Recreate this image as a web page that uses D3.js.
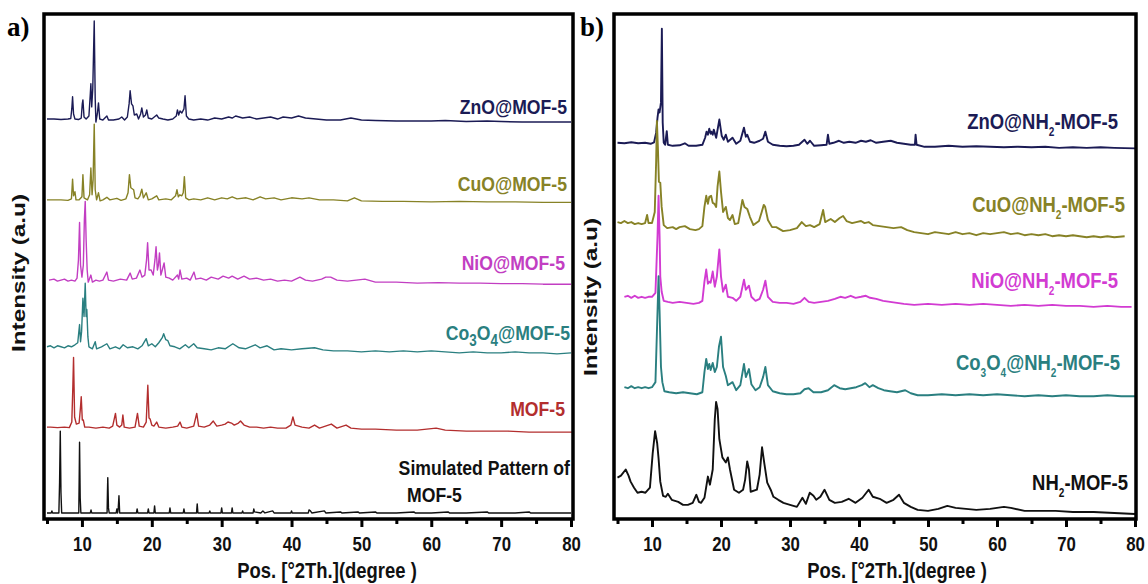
<!DOCTYPE html>
<html>
<head>
<meta charset="utf-8">
<script src="https://cdn.jsdelivr.net/npm/d3@7"></script>
<style>
  body { margin: 0; background: #fff; }
  svg text { font-family: "Liberation Sans", Arial, sans-serif; font-weight: bold; }
</style>
</head>
<body>
<script>
// ---------- data: [2theta, intensity a.u. above the trace's own offset] ----------
var ticksMajor = [10, 20, 30, 40, 50, 60, 70, 80];
var ticksAll = [5, 10, 15, 20, 25, 30, 35, 40, 45, 50, 55, 60, 65, 70, 75, 80];

// panel a
var namesA = ["ZnO@MOF-5", "CuO@MOF-5", "NiO@MOF-5", "Co_3O_4@MOF-5", "MOF-5", "Simulated Pattern of"];
var offsetsA = [792, 632, 473, 341, 182, 12];

var znoA = [[5,0],[6,0],[7,-1],[8,0],[8.4,1],[8.55,20],[8.66,44],[8.8,10],[9.0,0],[9.5,-1],[9.9,2],[10.05,30],[10.14,38],[10.3,4],[10.6,0],[11.0,6],[11.2,50],[11.28,70],[11.4,24],[11.55,60],[11.76,194],[11.9,40],[12.0,-6],[12.2,10],[12.37,32],[12.55,0],[13.0,-2],[13.57,6],[13.8,-2],[14.5,-2],[15.3,0],[15.7,4],[16.1,-2],[16.5,4],[16.75,30],[16.9,56],[17.1,30],[17.3,26],[17.5,8],[17.85,10],[18.1,0],[18.4,10],[18.57,22],[18.8,4],[19.1,8],[19.28,18],[19.5,2],[20.0,0],[20.7,8],[21.0,2],[21.6,0],[22.3,-2],[23.0,0],[23.5,6],[23.67,18],[23.85,8],[24.04,16],[24.3,12],[24.6,20],[24.76,46],[24.95,6],[25.3,0],[26.0,-2],[27.0,0],[28.0,-2],[29.0,2],[30.0,0],[31.0,4],[31.5,2],[32.0,6],[33.0,2],[34.0,4],[35.0,0],[36.0,2],[37.0,4],[38.0,0],[38.8,4],[40.0,2],[41.0,6],[42.0,2],[43.5,0],[45.0,-2],[47.0,-2],[48.5,2],[50,-2],[52,-3],[55,-4],[58,-4],[60,-4],[62,-3],[65,-5],[68,-4],[70,-5],[73,-6],[76,-6],[80,-6]];
var cuoA = [[5,0],[6,0],[7,0],[8,-1],[8.5,2],[8.66,41],[8.8,8],[9.0,16],[9.15,0],[9.6,0],[10.0,6],[10.14,50],[10.3,4],[10.8,0],[11.1,10],[11.28,63],[11.45,10],[11.6,40],[11.76,150],[11.9,20],[12.1,0],[12.37,14],[12.6,-2],[13.0,0],[13.57,5],[14.0,0],[15.0,3],[15.6,-1],[16.3,2],[16.6,14],[16.8,50],[17.0,24],[17.4,20],[17.6,4],[18.0,2],[18.3,8],[18.57,21],[18.8,4],[19.2,14],[19.5,0],[20.0,2],[20.7,8],[21.0,0],[22.0,2],[22.8,0],[23.4,8],[23.6,20],[23.8,6],[24.0,10],[24.3,8],[24.5,14],[24.66,46],[24.85,4],[25.3,0],[26.0,2],[27.0,0],[28.0,4],[29.0,0],[30.0,4],[30.8,2],[31.5,6],[32.2,2],[33.5,4],[34.5,0],[35.5,6],[36.3,2],[37.5,4],[38.5,0],[40.0,4],[41.5,2],[42.5,4],[44.0,0],[46.0,0],[48.0,-2],[49.0,4],[50.0,-2],[53,-3],[56,-3],[60,-4],[64,-3],[68,-4],[72,-4],[76,-5],[80,-5]];
var nioA = [[5.3,0],[6,2],[6.5,-2],[7,0],[7.5,2],[8,-2],[8.5,0],[9.0,-2],[9.3,4],[9.5,40],[9.66,114],[9.8,30],[10.0,6],[10.2,30],[10.35,120],[10.47,156],[10.6,80],[10.75,20],[10.9,-4],[11.28,10],[11.5,-4],[12.0,0],[12.5,-2],[13.0,0],[13.57,16],[13.8,0],[14.5,-2],[15.5,2],[16.4,0],[16.9,14],[17.2,2],[17.8,4],[18.3,20],[18.6,6],[19.0,10],[19.25,40],[19.4,74],[19.6,20],[19.9,20],[20.2,10],[20.45,40],[20.61,66],[20.8,20],[20.95,30],[21.1,54],[21.3,10],[21.5,20],[21.76,34],[22.0,6],[22.5,4],[23.0,0],[23.67,10],[23.85,2],[24.04,20],[24.3,2],[25.0,4],[25.5,0],[26.04,16],[26.3,2],[27.0,4],[27.8,0],[28.5,6],[29.5,2],[30.2,8],[31.0,4],[31.5,8],[32.3,2],[33.2,8],[34.0,2],[35.0,4],[36.0,0],[37.0,2],[38.0,-2],[39.0,0],[40.0,-2],[41.2,6],[42.0,0],[43.0,-2],[44.3,2],[44.9,6],[45.6,6],[46.5,0],[48.0,-2],[50.5,2],[52,-4],[55,-4],[58,-6],[61,-5],[64,-6],[67,-6],[70,-7],[73,-7],[76,-8],[80,-8]];
var coA = [[5,0],[5.5,2],[6,-2],[6.5,2],[7,0],[7.5,-2],[8,2],[8.5,0],[9.0,4],[9.4,8],[9.66,44],[9.8,10],[9.95,30],[10.14,96],[10.3,60],[10.47,126],[10.6,60],[10.7,74],[10.85,20],[11.0,0],[11.5,-4],[11.9,10],[12.1,-4],[12.8,0],[13.57,6],[14.0,-4],[14.8,0],[15.4,-4],[15.9,4],[16.5,-2],[17.3,0],[18.0,-4],[18.6,2],[19.2,16],[19.5,2],[20.0,6],[20.5,0],[21.0,8],[21.5,18],[21.7,26],[22.0,14],[22.3,12],[22.6,2],[23.3,0],[24.0,-4],[24.8,4],[25.3,-2],[26.0,6],[26.5,-2],[27.5,-4],[28.5,-6],[29.5,-2],[30.5,-4],[31.6,6],[32.5,-2],[33.4,-4],[34.8,4],[35.5,-2],[36.5,2],[37.5,-6],[38.5,-4],[40,-6],[41.5,-4],[43.3,-2],[44.5,-6],[46,-8],[48,-8],[50,-10],[52,-8],[54,-10],[56,-8],[58,-10],[60,-8],[62,-10],[64,-12],[66,-10],[68,-12],[70,-12],[72,-10],[74,-12],[76,-12],[78,-14],[80,-12]];
var mofA = [[5,0],[5.5,0],[6.5,-1],[7.5,0],[8.2,-1],[8.55,10],[8.7,80],[8.8,138],[8.95,20],[9.2,6],[9.6,8],[9.8,40],[9.9,60],[10.05,14],[10.2,14],[10.4,0],[11.0,0],[12.0,-2],[13.0,0],[13.9,-2],[14.4,2],[14.8,27],[15.0,4],[15.4,0],[15.7,4],[15.86,24],[16.05,0],[16.8,-2],[17.6,0],[17.95,27],[18.2,2],[18.8,0],[19.2,10],[19.43,83],[19.6,18],[19.76,16],[20.0,4],[20.3,2],[20.7,10],[21.0,0],[22.0,-2],[23.0,0],[23.7,2],[24.04,10],[24.3,0],[25.0,-2],[26.0,2],[26.43,27],[26.7,2],[27.5,0],[28.3,4],[28.8,12],[29.3,2],[30.0,4],[30.5,6],[30.9,10],[31.4,8],[31.8,4],[32.4,8],[32.7,12],[33.2,4],[34.0,0],[35.0,0],[36.0,-2],[37.0,0],[38.0,-2],[39.2,-2],[39.9,4],[40.2,20],[40.5,4],[41.5,0],[42.5,-2],[43.3,4],[44.0,-2],[45.7,6],[46.5,-2],[47.8,4],[48.5,-2],[50,-4],[52,-4],[55,-6],[58,-6],[60.7,-2],[62,-6],[65,-8],[68,-8],[71,-8],[74,-10],[77,-10],[80.4,-10]];
var simA = [[5,0],[5.6,0],[5.7,4],[5.8,0],[6.7,0],[6.8,60],[6.9,162],[7.0,40],[7.1,0],[8.5,0],[9.55,0],[9.6,60],[9.66,140],[9.75,30],[9.85,0],[11.2,0],[11.3,6],[11.4,0],[13.6,0],[13.65,40],[13.7,70],[13.8,10],[13.9,0],[14.9,0],[15.0,8],[15.1,0],[15.2,10],[15.3,34],[15.4,0],[17.8,0],[17.9,8],[18.0,0],[19.4,0],[19.5,8],[19.6,0],[20.3,0],[20.4,14],[20.5,0],[22.5,0],[22.6,10],[22.7,0],[24.5,0],[24.6,8],[24.7,0],[26.4,0],[26.5,18],[26.6,0],[28.2,0],[28.3,4],[28.4,0],[29.9,0],[30.0,10],[30.1,0],[31.4,0],[31.5,10],[31.6,0],[32.9,0],[33,4],[33.1,0],[34.5,0],[34.6,8],[34.7,2],[35.6,0],[35.9,4],[36.2,0],[37.3,4],[37.5,0],[39.9,0],[40.0,4],[40.1,0],[42.4,0],[42.5,6],[42.7,4],[42.9,0],[44.7,4],[44.9,0],[47,2],[47.2,0],[49.5,2],[49.7,0],[52,2],[52.2,0],[55,0],[57.5,2],[57.7,0],[60,0],[62.4,2],[62.6,0],[65,0],[68,2],[68.2,0],[72,0],[74,2],[74.2,0],[77,0],[80,0]];

// panel b
var namesB = ["ZnO@NH_2-MOF-5", "CuO@NH_2-MOF-5", "NiO@NH_2-MOF-5", "Co_3O_4@NH_2-MOF-5", "NH_2-MOF-5"];
var offsetsB = [745, 588, 440, 261, 0];

var znoB = [[5,0],[6,-1],[7,1],[8,-1],[9,0],[9.8,-2],[10.3,1],[10.6,20],[10.8,50],[10.95,66],[11.1,60],[11.3,80],[11.43,226],[11.55,40],[11.7,0],[11.9,-4],[12.14,23],[12.3,-4],[13,-6],[14,-5],[14.76,-1],[15.3,-6],[16.4,-6],[17.3,-4],[17.7,10],[17.9,22],[18.1,16],[18.3,28],[18.5,18],[18.6,22],[18.8,16],[18.95,26],[19.3,10],[19.76,46],[20.1,14],[20.4,6],[20.7,16],[21.0,2],[21.67,10],[22.2,-2],[22.8,4],[23.33,30],[23.6,12],[23.8,16],[24.2,2],[24.8,0],[25.6,4],[26.1,8],[26.43,22],[26.8,2],[27.5,-4],[28.5,-6],[29.5,-7],[30.5,-6],[31.3,-4],[32.1,6],[32.5,-2],[32.9,4],[33.5,-6],[34.5,-5],[35.3,-4],[35.5,16],[35.7,-2],[36.3,0],[37.1,4],[37.8,0],[38.6,2],[39.5,0],[40.3,4],[41.0,2],[41.7,5],[42.5,0],[43.5,2],[44.6,4],[45.5,0],[46.5,-2],[47.5,-4],[48.1,-4],[48.2,16],[48.35,-4],[49.5,-8],[51,-8],[53,-6],[55,-8],[57,-7],[59,-8],[61,-9],[63,-8],[65,-9],[67,-8],[69,-10],[71,-9],[73,-10],[75,-9],[77,-10],[80,-11]];
var cuoB = [[5,0],[5.5,-2],[6,2],[6.5,-2],[7,0],[7.5,-4],[8,-2],[8.5,-4],[9,-2],[9.29,14],[9.5,-2],[10,-2],[10.4,20],[10.6,120],[10.71,200],[10.85,150],[11.0,80],[11.2,78],[11.4,30],[11.7,-6],[12.2,-12],[13,-10],[13.5,-14],[14,-10],[14.76,-8],[15.5,-14],[16.3,-16],[16.8,-14],[17.3,-8],[17.6,30],[17.86,52],[18.1,36],[18.3,50],[18.57,52],[18.8,38],[19.05,36],[19.3,30],[19.5,70],[19.76,100],[20.0,60],[20.3,20],[20.7,30],[21.0,8],[21.3,4],[21.67,14],[22.0,-4],[22.5,-2],[22.8,20],[23.1,44],[23.4,30],[23.8,26],[24.2,10],[24.7,-6],[25.5,2],[25.9,20],[26.2,34],[26.4,30],[26.8,4],[27.4,-10],[28,-10],[29,-18],[30,-16],[31.0,-12],[31.7,0],[32.3,-8],[32.9,-6],[33.5,-10],[34.3,-4],[34.8,24],[35.1,0],[35.9,6],[36.5,0],[37.2,8],[37.7,12],[38.2,2],[39,-2],[39.6,0],[40.3,2],[40.8,-2],[41.4,0],[42,-6],[43,-8],[44,-10],[45,-12],[46.1,-10],[47,-16],[48,-20],[49,-22],[50,-24],[51,-20],[52,-22],[53,-24],[54,-20],[55,-24],[56,-22],[57,-26],[58,-22],[59,-24],[60,-22],[61,-20],[62,-24],[63,-22],[64,-26],[65,-24],[66,-26],[67,-24],[68,-28],[69,-26],[70,-28],[71,-26],[72,-28],[73,-30],[74,-28],[75,-30],[76,-28],[77,-30],[78.5,-28]];
var nioB = [[6,0],[6.5,2],[7,-2],[7.5,2],[8,-2],[8.5,0],[9,-2],[9.5,0],[10,0],[10.5,8],[10.8,120],[10.95,200],[11.1,120],[11.2,40],[11.4,10],[11.7,-8],[12.3,-10],[13,-12],[14,-10],[15,-12],[16,-14],[16.8,-12],[17.3,-8],[17.6,30],[17.86,54],[18.1,26],[18.3,30],[18.5,28],[18.8,50],[19.1,20],[19.4,40],[19.76,94],[20.0,40],[20.3,10],[20.7,24],[21.0,0],[21.67,-2],[22.2,-8],[22.8,0],[23.33,34],[23.6,14],[24.05,22],[24.4,0],[25.0,-8],[25.6,-4],[26.1,14],[26.43,32],[26.8,0],[27.5,-10],[28.5,-12],[29.5,-12],[30.5,-14],[31.5,-10],[32.1,-2],[32.7,-10],[33.5,-12],[34.5,-10],[35.5,-8],[36.5,-4],[37.3,0],[38,-2],[38.8,2],[39.5,-2],[40.3,0],[41.0,2],[41.6,-2],[42.5,-4],[43.5,-8],[44.5,-10],[45.5,-12],[46.5,-14],[48,-16],[50,-14],[52,-16],[54,-14],[56,-16],[58,-14],[60,-16],[62,-18],[64,-16],[66,-18],[68,-16],[70,-18],[72,-18],[74,-20],[76,-18],[78,-20],[79.5,-20]];
var coB = [[6,0],[6.5,-2],[7,2],[7.5,-2],[8,0],[8.5,-2],[9,0],[9.5,-2],[10,0],[10.5,10],[10.8,150],[10.95,220],[11.1,150],[11.3,40],[11.5,10],[11.8,-8],[12.5,-10],[13.5,-12],[14.5,-10],[15.5,-12],[16.5,-14],[17.3,-10],[17.6,30],[17.86,56],[18.1,36],[18.3,46],[18.5,34],[18.8,48],[19.1,30],[19.4,40],[19.7,80],[20.0,100],[20.3,40],[20.7,22],[21.0,4],[21.67,10],[22.2,-6],[22.8,4],[23.33,46],[23.6,20],[24.05,36],[24.4,6],[25.0,-6],[25.6,0],[26.1,20],[26.43,40],[26.8,4],[27.5,-8],[28.5,-12],[29.5,-14],[30.5,-14],[31.5,-12],[32.1,-4],[32.7,-2],[33.4,-10],[34.5,-10],[35.5,-6],[36.4,4],[37.2,-2],[38,-4],[38.8,-2],[39.6,0],[40.4,4],[40.9,8],[41.5,0],[42,4],[42.8,-2],[43.6,-6],[44.5,-8],[45.5,-10],[46.7,-6],[47.5,-12],[48.5,-16],[50,-16],[52,-14],[54,-16],[56,-14],[58,-16],[60,-14],[62,-16],[64,-18],[66,-16],[68,-18],[70,-16],[72,-18],[74,-18],[76,-16],[78,-18],[80,-18]];
var nh2B = [[5.0,82],[5.5,86],[6.19,98],[6.6,86],[6.9,74],[7.4,62],[7.9,52],[8.5,54],[9.05,52],[9.7,62],[10.1,130],[10.45,174],[10.75,150],[10.95,120],[11.2,74],[11.6,46],[12.0,44],[12.3,50],[12.86,38],[13.8,34],[14.5,28],[15.2,28],[15.9,32],[16.43,48],[16.8,34],[17.1,32],[17.6,42],[18.1,84],[18.4,68],[18.8,98],[19.1,198],[19.29,232],[19.5,218],[19.76,158],[20.2,122],[20.7,112],[21.0,122],[21.3,98],[21.9,58],[22.6,52],[23.2,58],[23.5,78],[23.8,114],[24.05,98],[24.3,54],[25.2,58],[25.6,88],[25.95,142],[26.3,108],[26.7,72],[27.2,58],[27.6,44],[28.3,38],[29.05,32],[30.0,28],[31.0,24],[31.8,42],[32.3,30],[32.86,52],[33.4,46],[33.8,38],[34.4,44],[35.0,58],[35.7,38],[36.5,32],[37.5,34],[38.5,40],[39.5,32],[40.5,42],[41.4,58],[42.0,44],[43.0,40],[44.0,32],[45.0,38],[45.8,48],[46.5,32],[47.5,24],[48.5,18],[50.0,16],[51.5,20],[52.8,26],[54.0,22],[55.5,20],[57.0,18],[59.0,20],[61.0,24],[62.0,22],[64.0,16],[66.0,16],[68.5,16],[71.0,14],[74.0,14],[77.0,12],[80.0,10]];

var seriesA = [znoA, cuoA, nioA, coA, mofA, simA];
var seriesB = [znoB, cuoB, nioB, coB, nh2B];

// ---------- layout / style ----------
var colorsA = ["#1b1b55", "#878226", "#c23ec2", "#2a7f80", "#b32e2e", "#111111"];
var colorsB = ["#1b1b55", "#878226", "#d23bd2", "#2a7f80", "#111111"];
var squeeze = 0.84;   // the figure's text is a condensed bold face

var svgWidth = 1148;
var svgHeight = 584;

var svg = d3.select("body")
  .append("svg")
  .attr("width", svgWidth)
  .attr("height", svgHeight);

var panels = [
  { tag: "a)", tagX: 7, frame: [44, 14, 573, 519], xr: [47, 571], names: namesA, offsets: offsetsA,
    series: seriesA, colors: colorsA, lw: 1.4, fs: 21, subSize: 16, subDy: 6,
    labels: [[567, 114], [567, 191], [565, 270], [570, 340], [565, 416], [570, 475]],
    yTitle: [19, 273], xTitle: 327 },
  { tag: "b)", tagX: 580, frame: [614, 14, 1136, 519], xr: [617.5, 1135], names: namesB, offsets: offsetsB,
    series: seriesB, colors: colorsB, lw: 1.9, fs: 22, subSize: 12, subDy: 7,
    labels: [[1118, 129], [1125, 212], [1118, 288], [1120, 370], [1128, 490]],
    yTitle: [591, 297], xTitle: 897 }
];

// condensed text placed at (x, y)
function narrowText(g, x, y, size) {
  return g.append("text")
    .attr("transform", "translate(" + x + "," + y + ") scale(" + squeeze + ",1)")
    .style("font-size", size + "px");
}

// label text with "_n" meaning subscript n
function addLabel(g, str, x, y, color, p) {
  var t = narrowText(g, x, y, p.fs)
    .attr("text-anchor", "end")
    .attr("fill", color);
  var parts = str.split(/_(\d)/);
  var shift = 0;
  parts.forEach(function(s, i) {
    if (s === "") return;
    if (i % 2 === 1) {
      t.append("tspan").attr("dy", p.subDy - shift).style("font-size", p.subSize + "px").text(s);
      shift = p.subDy;
    } else {
      t.append("tspan").attr("dy", -shift).text(s);
      shift = 0;
    }
  });
  return t;
}

panels.forEach(function(p) {
  var f = p.frame;
  var g = svg.append("g");

  var x = d3.scaleLinear().domain([5, 80]).range(p.xr);
  var y = d3.scaleLinear().domain([0, 1000]).range([f[3], f[1]]);

  // traces
  p.series.forEach(function(data, i) {
    var line = d3.line()
      .x(function(d) { return x(d[0]); })
      .y(function(d) { return y(p.offsets[i] + d[1]); });
    g.append("path")
      .datum(data)
      .attr("d", line)
      .attr("fill", "none")
      .attr("stroke", p.colors[i])
      .attr("stroke-width", p.lw)
      .attr("stroke-linejoin", "round");
  });

  // frame
  g.append("rect")
    .attr("x", f[0]).attr("y", f[1])
    .attr("width", f[2] - f[0]).attr("height", f[3] - f[1])
    .attr("fill", "none")
    .attr("stroke", "#000")
    .attr("stroke-width", 3.5);

  // bottom axis
  var axis = d3.axisBottom(x)
    .tickValues(ticksAll)
    .tickSize(7)
    .tickPadding(11)
    .tickFormat(function(d) { return ticksMajor.indexOf(d) >= 0 ? d : ""; });
  var ag = g.append("g")
    .attr("transform", "translate(0," + f[3] + ")")
    .call(axis);
  ag.select(".domain").remove();
  ag.selectAll(".tick line")
    .attr("stroke", "#000")
    .attr("stroke-width", 3)
    .attr("y2", function(d) { return ticksMajor.indexOf(d) >= 0 ? 8 : 5; });
  ag.selectAll(".tick text")
    .attr("fill", "#111")
    .attr("transform", "scale(" + squeeze + ",1)")
    .style("font-family", "'Liberation Sans', Arial, sans-serif")
    .style("font-weight", "bold")
    .style("font-size", "20px");

  // series labels
  p.names.forEach(function(n, i) {
    addLabel(g, n, p.labels[i][0], p.labels[i][1], p.colors[i], p);
  });

  // axis titles
  narrowText(g, p.xTitle, 578, 22)
    .attr("text-anchor", "middle")
    .attr("fill", "#111")
    .text("Pos. [°2Th.](degree )");

  g.append("text")
    .attr("transform", "translate(" + p.yTitle[0] + "," + p.yTitle[1] + ") rotate(-90)")
    .attr("text-anchor", "middle")
    .attr("dy", "0.35em")
    .attr("fill", "#111")
    .attr("textLength", 158)
    .attr("lengthAdjust", "spacingAndGlyphs")
    .style("font-size", "18px")
    .text("Intensity (a.u)");

  // panel tag
  g.append("text")
    .attr("x", p.tagX).attr("y", 36)
    .style("font-family", "'Liberation Serif', 'Times New Roman', serif")
    .style("font-size", "27px")
    .text(p.tag);
});

// second line of the simulated-pattern label
narrowText(svg, 407, 502, 21)
  .attr("fill", "#111")
  .text("MOF-5");
</script>
</body>
</html>
